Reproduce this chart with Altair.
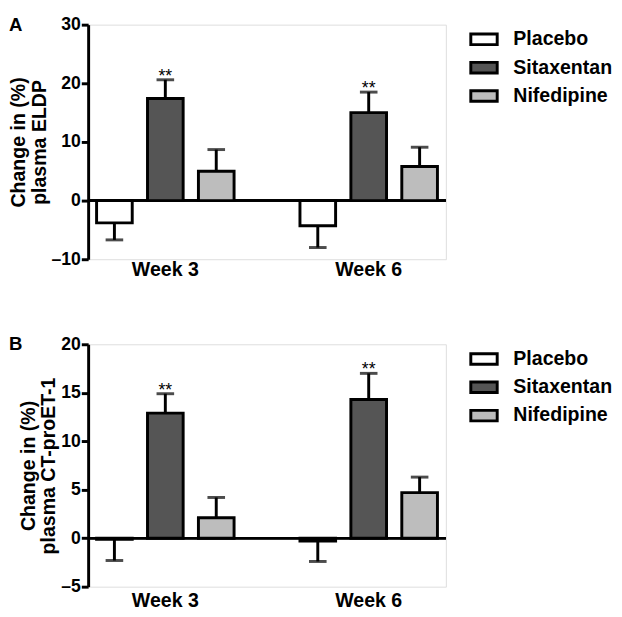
import altair as alt
import pandas as pd

weeks = ["Week 3", "Week 6"]
groups = ["Placebo", "Sitaxentan", "Nifedipine"]
colors = ["#ffffff", "#555555", "#bdbdbd"]

# Panel A: plasma ELDP (mean, mean+SEM end)
eldp_mean = {"Week 3": [-3.8, 17.4, 5.0], "Week 6": [-4.3, 15.0, 5.8]}
eldp_err = {"Week 3": [-6.7, 20.6, 8.7], "Week 6": [-8.0, 18.5, 9.1]}
# Panel B: plasma CT-proET-1
ct_mean = {"Week 3": [-0.1, 12.9, 2.1], "Week 6": [-0.3, 14.3, 4.7]}
ct_err = {"Week 3": [-2.3, 14.9, 4.2], "Week 6": [-2.4, 17.0, 6.3]}
sig = ["", "**", ""]

FONT = "Liberation Sans"
W = 366


def make_df(means, errs):
    rows = []
    for w in weeks:
        for i, g in enumerate(groups):
            rows.append({"week": w, "group": g, "value": means[w][i],
                         "err": errs[w][i], "sig": sig[i]})
    return pd.DataFrame(rows)


def panel(df, letter, title_lines, domain, step, height, xpad):
    xs = alt.X("week:N", sort=weeks,
               scale=alt.Scale(paddingInner=0.324, paddingOuter=0.0415),
               axis=alt.Axis(title=None, labelAngle=0, domain=False, ticks=False,
                             grid=False,
                             labelFontSize=20, labelFontWeight="bold", labelFont=FONT,
                             labelColor="black", labelPadding=xpad))
    xo = alt.XOffset("group:N", sort=groups,
                     scale=alt.Scale(paddingInner=0.3, paddingOuter=0))
    ys = alt.Y("value:Q",
               scale=alt.Scale(domain=domain, nice=False, zero=False),
               axis=alt.Axis(values=list(range(domain[0], domain[1] + 1, step)),
                             title=title_lines, titleFontSize=20, titleFont=FONT,
                             titleFontWeight="bold", titleColor="black", titlePadding=2,
                             titleLineHeight=21,
                             labelFontSize=18, labelFont=FONT, labelFontWeight="bold",
                             labelColor="black", labelPadding=1, tickSize=7,
                             tickWidth=3, tickColor="black", domainWidth=3,
                             domainColor="black", grid=False,
                             labelExpr="datum.value < 0 ? '\u2013' + abs(datum.value) : datum.label"))
    base = alt.Chart(df)
    zero = base.mark_rule(color="black", strokeWidth=2).encode(y=alt.datum(0))
    bars = base.mark_bar(stroke="black", strokeWidth=3).encode(
        x=xs, xOffset=xo, y=ys,
        y2=alt.datum(0),
        fill=alt.Fill("group:N", sort=groups,
                      scale=alt.Scale(domain=groups, range=colors),
                      legend=alt.Legend(title=None, orient="right", offset=24,
                                        labelFontSize=20, labelFont=FONT,
                                        labelFontWeight="bold", labelColor="black",
                                        symbolType="M-1,-0.4L1,-0.4L1,0.4L-1,0.4Z",
                                        symbolSize=729, symbolStrokeColor="black",
                                        symbolStrokeWidth=3, rowPadding=2,
                                        labelOffset=15, padding=0)))
    errbar = base.mark_rule(color="black", strokeWidth=3).encode(
        x=xs, xOffset=xo, y="value:Q", y2="err:Q")
    cap = base.mark_tick(color="black", thickness=3, size=18).encode(
        x=xs, xOffset=xo, y="err:Q")
    stars = base.mark_text(fontSize=18, font=FONT, color="black",
                           baseline="alphabetic", dy=2).encode(
        x=xs, xOffset=xo, y="err:Q", text="sig:N")
    label = alt.Chart(pd.DataFrame({"t": [letter]})).mark_text(
        fontSize=19, font=FONT, fontWeight="bold", color="black",
        align="left", baseline="top").encode(
        x=alt.value(-81), y=alt.value(-9), text="t:N")
    return alt.layer(zero, errbar, cap, bars, stars, label).properties(
        width=W, height=height)


chart_a = panel(make_df(eldp_mean, eldp_err), "A", ["Change in (%)", "plasma ELDP"],
                [-10, 30], 10, 240, 1)
chart_b = panel(make_df(ct_mean, ct_err), "B", ["Change in (%)", "plasma CT-proET-1"],
                [-5, 20], 5, 248, 4)

chart = alt.vconcat(chart_a, chart_b, spacing=55).resolve_scale(
    fill="independent").resolve_legend(fill="independent").configure_view(
    stroke="transparent", strokeWidth=0, strokeOpacity=0).configure_axis(
    grid=False, gridOpacity=0).configure(padding=0)

chart.save("out.html", embed_options={"renderer": "svg", "actions": False})
